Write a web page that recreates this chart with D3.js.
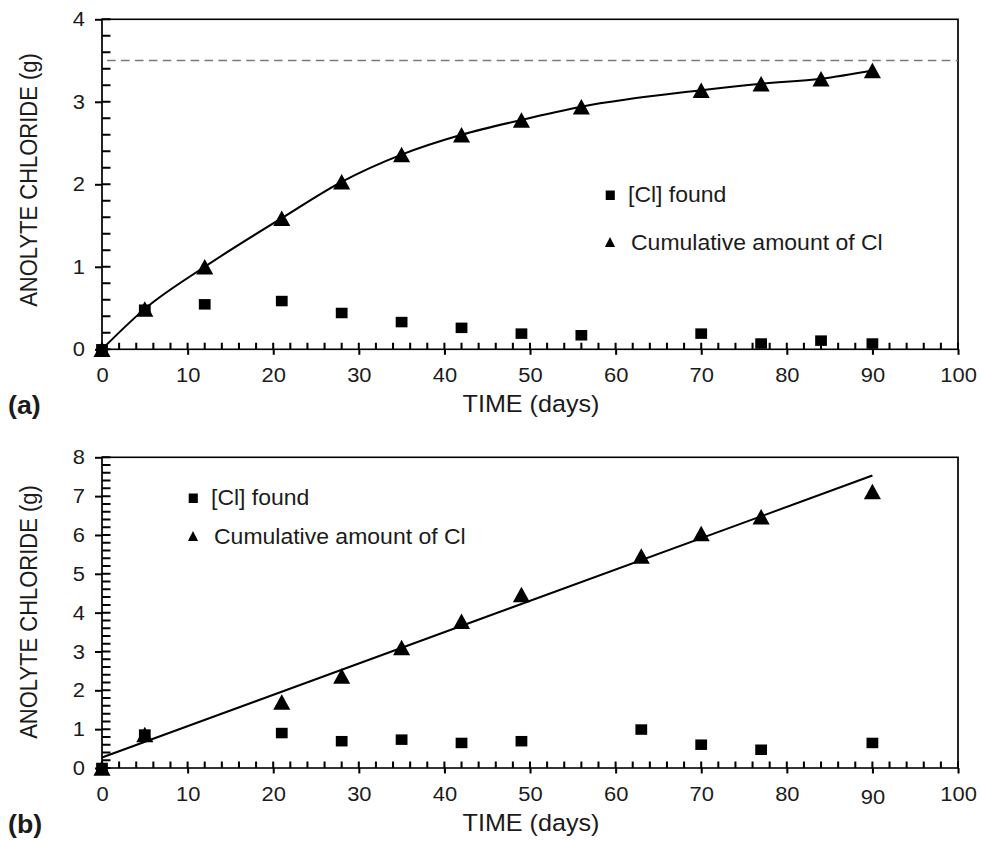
<!DOCTYPE html>
<html>
<head>
<meta charset="utf-8">
<script src="https://cdn.jsdelivr.net/npm/d3@7/dist/d3.min.js"></script>
<style>
  body { margin: 0; background: #fff; }
  text { font-family: "Liberation Sans", Arial, sans-serif; fill: #1b1b1b; }
</style>
</head>
<body>
<svg id="chart" width="981" height="841"></svg>
<script>
// ---- Panel (a) data ----
const daysA       = [0, 5, 12, 21, 28, 35, 42, 49, 56, 70, 77, 84, 90];
const foundA      = [0, 0.48, 0.545, 0.585, 0.44, 0.33, 0.26, 0.19, 0.17, 0.19, 0.07, 0.105, 0.07];
const cumulativeA = [0, 0.49, 1.0, 1.59, 2.03, 2.36, 2.60, 2.78, 2.94, 3.14, 3.22, 3.28, 3.38];
const plateauA    = 3.5;

// ---- Panel (b) data ----
const daysB       = [0, 5, 21, 28, 35, 42, 49, 63, 70, 77, 90];
const foundB      = [0, 0.86, 0.90, 0.69, 0.73, 0.645, 0.69, 0.99, 0.60, 0.47, 0.645];
const cumulativeB = [0, 0.86, 1.70, 2.37, 3.10, 3.78, 4.47, 5.46, 6.04, 6.47, 7.12];
const fitLineB    = [[0, 0.27], [90, 7.53]];

// ---- Axis ticks and labels ----
const xTicks      = [0, 10, 20, 30, 40, 50, 60, 70, 80, 90, 100];
const xMinorTicks = d3.range(0, 101, 2);
const yTicksA     = [0, 1, 2, 3, 4];
const yTicksB     = [0, 1, 2, 3, 4, 5, 6, 7, 8];
const xTitle      = "TIME (days)";
const yTitle      = "ANOLYTE CHLORIDE (g)";
const legendLabels = ["[Cl] found", "Cumulative amount of Cl"];

// The figure is drawn slightly wide: everything sits in a group stretched horizontally.
const K = 1.07;
const X = px => px / K;

const svg = d3.select("#chart");
const root = svg.append("g").attr("transform", `scale(${K},1)`);

const x = d3.scaleLinear().domain([0, 100]).range([X(102), X(958)]);

function trianglePath(b, h) {
  return `M0,${-h / 2}L${b / 2},${h / 2}L${-b / 2},${h / 2}Z`;
}

function panel(opts) {
  const g = root.append("g");
  const y = d3.scaleLinear().domain([0, opts.yMax]).range([opts.bottom, opts.top]);
  const [x0, x1] = x.range();

  // frame
  g.append("rect")
    .attr("x", x0).attr("y", opts.top)
    .attr("width", x1 - x0).attr("height", opts.bottom - opts.top)
    .attr("fill", "none").attr("stroke", "#000").attr("stroke-width", 1.6);

  // left axis: labels and outer half of major ticks
  const left = g.append("g").attr("transform", `translate(${x0},0)`)
    .call(d3.axisLeft(y).tickValues(opts.yTicks).tickSize(X(7)).tickPadding(X(10)).tickFormat(d3.format("d")));
  left.select(".domain").remove();
  left.selectAll("line").attr("stroke", "#000").attr("stroke-width", 2);
  left.selectAll("text").style("font-size", "20.5px").attr("fill", "#1b1b1b");

  // inner ticks on the left axis, every 0.2
  const yMinor = d3.range(0, Math.round(opts.yMax * 5) + 1).map(i => i / 5);
  g.append("path")
    .attr("d", yMinor.map(d => `M${x0},${y(d)}h${X(8.5)}`).join(""))
    .attr("fill", "none").attr("stroke", "#000").attr("stroke-width", 2);

  // bottom axis: labels and outer half of major ticks
  const bottom = g.append("g").attr("transform", `translate(0,${opts.bottom})`)
    .call(d3.axisBottom(x).tickValues(xTicks).tickSize(5.5).tickPadding(12.5).tickFormat(d3.format("d")));
  bottom.select(".domain").remove();
  bottom.selectAll("line").attr("stroke", "#000").attr("stroke-width", 1.9);
  bottom.selectAll("text").style("font-size", "20.5px").attr("fill", "#1b1b1b");
  if (opts.lowered) {
    bottom.selectAll(".tick").filter(d => d === opts.lowered).select("text").attr("y", 21);
  }

  // inner ticks on the bottom axis, every 2 days
  g.append("path")
    .attr("d", xMinorTicks.map(d => `M${x(d)},${opts.bottom}v-6.5`).join(""))
    .attr("fill", "none").attr("stroke", "#000").attr("stroke-width", 1.9);

  // axis titles
  g.append("text")
    .attr("transform", `translate(${X(37)},${opts.titleY}) rotate(-90)`)
    .attr("text-anchor", "middle").style("font-size", "22px")
    .text(yTitle);
  g.append("text")
    .attr("x", X(531)).attr("y", opts.bottom + 63)
    .attr("text-anchor", "middle").style("font-size", "23.5px")
    .text(xTitle);
  g.append("text")
    .attr("x", X(8)).attr("y", opts.bottom + 65)
    .style("font-size", "25px").style("font-weight", "bold")
    .text(opts.tag);

  return { g, y };
}

function drawMarkers(g, y, days, found, cumulative) {
  g.append("g").selectAll("rect")
    .data(days.map((d, i) => [d, found[i]]))
    .join("rect")
    .attr("x", d => x(d[0]) - 5.5).attr("y", d => y(d[1]) - 5.25)
    .attr("width", 11).attr("height", 10.5)
    .attr("fill", "#000");
  g.append("g").selectAll("path")
    .data(days.map((d, i) => [d, cumulative[i]]))
    .join("path")
    .attr("transform", d => `translate(${x(d[0])},${y(d[1])})`)
    .attr("d", trianglePath(16, 15.5))
    .attr("fill", "#000");
}

function drawLegend(g, lx, ly1, ly2) {
  g.append("rect").attr("x", X(lx) - 4).attr("y", ly1 - 4.5)
    .attr("width", 8.5).attr("height", 9.5).attr("fill", "#000");
  g.append("text").attr("x", X(lx + 18)).attr("y", ly1 + 7)
    .style("font-size", "21.5px").text(legendLabels[0]);
  g.append("path").attr("transform", `translate(${X(lx)},${ly2})`)
    .attr("d", trianglePath(9.5, 10)).attr("fill", "#000");
  g.append("text").attr("x", X(lx + 21)).attr("y", ly2 + 8)
    .style("font-size", "21.5px").text(legendLabels[1]);
}

// ---- Panel (a) ----
const pa = panel({ top: 19.3, bottom: 349.3, yMax: 4, yTicks: yTicksA, titleY: 180, tag: "(a)" });

pa.g.append("line")
  .attr("x1", x(0.6)).attr("x2", x(100))
  .attr("y1", pa.y(plateauA)).attr("y2", pa.y(plateauA))
  .attr("stroke", "#7a7a7a").attr("stroke-width", 1.6).attr("stroke-dasharray", "8,5");

pa.g.append("path")
  .datum(daysA.map((d, i) => [d, cumulativeA[i]]))
  .attr("d", d3.line().x(d => x(d[0])).y(d => pa.y(d[1])).curve(d3.curveMonotoneX))
  .attr("fill", "none").attr("stroke", "#000").attr("stroke-width", 2);

drawMarkers(pa.g, pa.y, daysA, foundA, cumulativeA);
drawLegend(pa.g, 610, 195, 242);

// ---- Panel (b) ----
const pb = panel({ top: 457.3, bottom: 768, yMax: 8, yTicks: yTicksB, titleY: 612, tag: "(b)", lowered: 90 });

pb.g.append("path")
  .datum(fitLineB)
  .attr("d", d3.line().x(d => x(d[0])).y(d => pb.y(d[1])))
  .attr("fill", "none").attr("stroke", "#000").attr("stroke-width", 2);

drawMarkers(pb.g, pb.y, daysB, foundB, cumulativeB);
drawLegend(pb.g, 193, 498, 536);
</script>
</body>
</html>
